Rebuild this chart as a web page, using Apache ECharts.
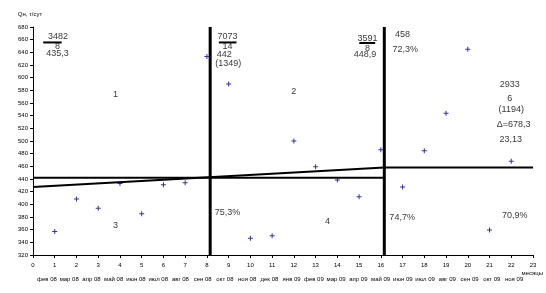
<!DOCTYPE html>
<html>
<head>
<meta charset="utf-8">
<script src="https://cdn.jsdelivr.net/npm/echarts@6/dist/echarts.min.js"></script>
<style>
  html, body { margin: 0; padding: 0; background: #fff; }
  #chart { width: 546px; height: 293px; }
</style>
</head>
<body>
<div id="chart"></div>
<script>
// месяцы под номерами 1..22
const months = ['фев 08', 'мар 08', 'апр 08', 'май 08', 'июн 08', 'июл 08', 'авг 08', 'сен 08',
  'окт 08', 'ноя 08', 'дек 08', 'янв 09', 'фев 09', 'мар 09', 'апр 09', 'май 09',
  'июн 09', 'июл 09', 'авг 09', 'сен 09', 'окт 09', 'ноя 09']
const monthNums = months.map((m, i) => i + 1)

// дебит по месяцам, т/сут
const rates = [357, 408.5, 394, 433, 385, 431, 434, 633.5, 590, 346.5, 350.5, 500,
  459.5, 438.5, 412, 486, 427.5, 484.5, 544, 645, 359.5, 468]

// линии
const avgLine = [[0, 442], [16.16, 442]]
const trendLine = [[0, 427.5], [16.16, 458], [23, 458]]
const splits = [8.15, 16.16]
const fracBars = [[0.47, 1.32, 655.6], [8.55, 9.36, 655.6], [15.01, 15.74, 654.7]]

// подписи [x, y, текст]
const notes = [
  [1.15, 664.7, '3482'], [1.13, 648.6, '8'], [1.13, 637.8, '435,3'],
  [3.79, 573, '1'], [3.79, 365.8, '3'],
  [8.95, 664.2, '7073'], [8.95, 649.0, '14'], [8.8, 637.3, '442'], [8.98, 623, '(1349)'],
  [12.0, 578.2, '2'], [8.95, 386.9, '75,3%'], [13.55, 372.6, '4'],
  [15.39, 662.6, '3591'], [15.39, 646.6, '8'], [15.27, 636.2, '448,9'],
  [17.0, 667.8, '458'], [17.12, 644.1, '72,3%'], [16.98, 378.5, '74,7%'],
  [22.16, 381.7, '70,9%'],
  [21.93, 588.8, '2933'], [21.93, 567.7, '6'], [22.0, 549.2, '(1194)'],
  [22.11, 525.5, 'Δ=678,3'], [21.98, 502.9, '23,13']
]

const chart = echarts.init(document.getElementById('chart'))
const noteFont = "'Liberation Sans Narrow', 'Arial Narrow', 'Liberation Sans', sans-serif"
const tickFont = { fontSize: 6, color: '#000', fontFamily: 'Liberation Sans' }

const blackLine = (data, width) => ({
  type: 'line',
  data: data,
  symbol: 'none',
  silent: true,
  lineStyle: { color: '#000', width: width },
  z: 3
})

const series = [
  blackLine(avgLine, 2),
  blackLine(trendLine, 2),
  ...splits.map(x => blackLine([[x, 320], [x, 680]], 3)),
  ...fracBars.map(b => blackLine([[b[0], b[2]], [b[1], b[2]]], 2)),
  {
    type: 'scatter',
    data: rates.map((v, i) => [i + 1, v]),
    symbol: 'path://M2,0h1v2h2v1h-2v2h-1v-2h-2v-1h2z',
    symbolSize: 5,
    itemStyle: { color: '#000080' },
    z: 5
  },
  {
    type: 'scatter',
    data: notes.map(n => ({ value: [n[0], n[1]], label: { formatter: n[2] } })),
    symbolSize: 0,
    silent: true,
    label: {
      show: true,
      position: 'inside',
      color: '#000',
      fontSize: 9,
      fontFamily: noteFont
    },
    z: 6
  }
]

chart.setOption({
  animation: false,
  grid: { left: 33, right: 12, top: 27, bottom: 38 },
  xAxis: [
    {
      type: 'value',
      min: 0,
      max: 23,
      interval: 1,
      name: 'месяцы',
      nameLocation: 'end',
      nameGap: 10,
      nameTextStyle: { fontSize: 6, align: 'right', verticalAlign: 'top', padding: [15, 0, 0, 0], fontFamily: 'Liberation Sans' },
      splitLine: { show: false },
      axisLine: { onZero: false, lineStyle: { color: '#000', width: 1 } },
      axisTick: { show: true, length: 3, lineStyle: { color: '#000' } },
      axisLabel: Object.assign({ margin: 7 }, tickFont)
    },
    {
      type: 'value',
      position: 'bottom',
      min: 0.372,
      max: 22.85,
      axisLine: { show: false },
      axisTick: { show: false },
      splitLine: { show: false },
      axisLabel: Object.assign({
        margin: 21,
        customValues: monthNums,
        formatter: v => months[Math.round(v) - 1] || ''
      }, tickFont)
    }
  ],
  yAxis: {
    type: 'value',
    min: 320,
    max: 680,
    interval: 20,
    name: 'Qн, т/сут',
    nameLocation: 'end',
    nameGap: 10,
    nameTextStyle: { fontSize: 6, color: '#000', padding: [0, 6, 0, 0], fontFamily: 'Liberation Sans' },
    splitLine: { show: false },
    axisLine: { show: true, lineStyle: { color: '#000', width: 1 } },
    axisTick: { show: true, length: 3, lineStyle: { color: '#000' } },
    axisLabel: Object.assign({ margin: 5 }, tickFont)
  },
  series: series
})
</script>
</body>
</html>
